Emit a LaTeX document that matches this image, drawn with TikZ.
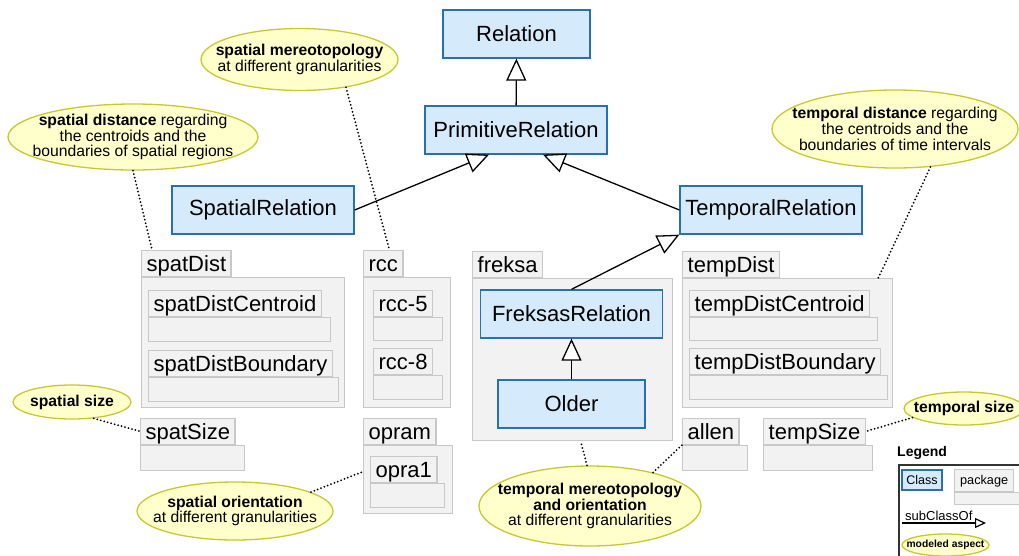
\documentclass[tikz,border=0pt]{standalone}
\usepackage{fontspec}
\setmainfont{Liberation Sans}
\usetikzlibrary{arrows.meta,shapes.geometric}

\definecolor{clsfill}{RGB}{213,235,251}
\definecolor{clsline}{RGB}{40,112,182}
\definecolor{pkgfill}{RGB}{242,242,242}
\definecolor{pkgline}{RGB}{200,200,200}
\definecolor{aspfill}{RGB}{255,255,204}
\definecolor{aspline}{RGB}{200,200,50}

\begin{document}
\begin{tikzpicture}[x=1pt,y=-1pt,
    cls/.style={draw=clsline,fill=clsfill,line width=1.3pt,inner sep=0pt,
      minimum height=48pt,font=\fontsize{22}{24}\selectfont},
    pkg/.style={draw=pkgline,fill=pkgfill,line width=1.3pt,anchor=north west,inner sep=0pt},
    tab/.style={draw=pkgline,fill=pkgfill,line width=1.3pt,anchor=south west,
      inner xsep=5pt,inner ysep=4pt,text height=17pt,text depth=1pt,
      font=\fontsize{22}{24}\selectfont},
    aspect/.style={ellipse,draw=aspline,fill=aspfill,line width=1.3pt,inner sep=0pt},
    asptext/.style={align=center,inner sep=0pt,font=\fontsize{15.7}{15.7}\selectfont},
    gen/.style={-{Triangle[length=22pt,width=20pt,fill=white]},line width=1.3pt},
    note/.style={line width=2pt,line cap=round,dash pattern=on 0pt off 3.6pt}]

      \useasboundingbox (0,0) rectangle (1019,555);

      % packages
      \node[pkg,minimum width=203pt,minimum height=130pt] (spatdist) at (141,277) {};
      \node[tab] (spatdist-tab) at (spatdist.north west) {spatDist};
      \node[pkg,minimum width=182pt,minimum height=24pt] (centroid) at (148,317) {};
      \node[tab] (centroid-tab) at (centroid.north west) {spatDistCentroid};
      \node[pkg,minimum width=190pt,minimum height=24pt] (boundary) at (148,377) {};
      \node[tab] (boundary-tab) at (boundary.north west) {spatDistBoundary};

      \node[pkg,minimum width=87pt,minimum height=130pt] (rcc) at (363,277) {};
      \node[tab] (rcc-tab) at (rcc.north west) {rcc};
      \node[pkg,minimum width=69pt,minimum height=23pt] (rcc5) at (373,317) {};
      \node[tab] (rcc5-tab) at (rcc5.north west) {rcc-5};
      \node[pkg,minimum width=69pt,minimum height=24pt] (rcc8) at (373,375) {};
      \node[tab] (rcc8-tab) at (rcc8.north west) {rcc-8};

      \node[pkg,minimum width=200pt,minimum height=162pt] (freksa) at (472,278) {};
      \node[tab] (freksa-tab) at (freksa.north west) {freksa};

      \node[pkg,minimum width=210pt,minimum height=129pt] (tempdist) at (682,278) {};
      \node[tab] (tempdist-tab) at (tempdist.north west) {tempDist};
      \node[pkg,minimum width=188pt,minimum height=23pt] (tcentroid) at (689,317) {};
      \node[tab] (tcentroid-tab) at (tcentroid.north west) {tempDistCentroid};
      \node[pkg,minimum width=198pt,minimum height=24pt] (tboundary) at (689,375) {};
      \node[tab] (tboundary-tab) at (tboundary.north west) {tempDistBoundary};

      \node[pkg,minimum width=104pt,minimum height=25pt] (spatsize) at (140,445) {};
      \node[tab] (spatsize-tab) at (spatsize.north west) {spatSize};

      \node[pkg,minimum width=89pt,minimum height=68pt] (opram) at (363,445) {};
      \node[tab] (opram-tab) at (opram.north west) {opram};
      \node[pkg,minimum width=74pt,minimum height=24pt] (opra1) at (370,483) {};
      \node[tab] (opra1-tab) at (opra1.north west) {opra1};

      \node[pkg,minimum width=65pt,minimum height=25pt] (allen) at (682,445) {};
      \node[tab] (allen-tab) at (allen.north west) {allen};

      \node[pkg,minimum width=109pt,minimum height=25pt] (tempsize) at (763,445) {};
      \node[tab] (tempsize-tab) at (tempsize.north west) {tempSize};

      % classes
      \begin{scope}[every node/.style={cls}]
        \node[minimum width=147pt] (relation)  at (516.5,34) {Relation};
        \node[minimum width=182pt] (primitive) at (516,130)  {PrimitiveRelation};
        \node[minimum width=182pt] (spatial)   at (263,210)  {SpatialRelation};
        \node[minimum width=182pt] (temporal)  at (771,210)  {TemporalRelation};
        \node[minimum width=182pt] (freksas)   at (571.5,314) {FreksasRelation};
        \node[minimum width=147pt] (older)     at (571.5,404) {Older};
      \end{scope}

      \begin{scope}[every edge/.style={draw,gen}]
        \path (primitive) edge (relation);
        \path (spatial.east) edge ([xshift=-27pt]primitive.south);
        \path (temporal.west) edge ([xshift=27pt]primitive.south);
        \path (freksas.north) edge (temporal.south west);
        \path (older) edge (freksas);
      \end{scope}

      % modeled aspects
      \node[aspect,minimum width=197pt,minimum height=62pt,
        label={[asptext]center:{\textbf{spatial mereotopology}\\at different granularities}}]
        (asp-smer) at (299.5,59.5) {};
      \node[aspect,minimum width=250pt,minimum height=66pt,
        label={[asptext]center:{\textbf{spatial distance} regarding\\the centroids and the\\boundaries of spatial regions}}]
        (asp-sdist) at (133,137) {};
      \node[aspect,minimum width=246pt,minimum height=78pt,
        label={[asptext]center:{\textbf{temporal distance} regarding\\the centroids and the\\boundaries of time intervals}}]
        (asp-tdist) at (895,129) {};
      \node[aspect,minimum width=118pt,minimum height=34pt,
        label={[asptext]center:{\textbf{spatial size}}}]
        (asp-ssize) at (72,402) {};
      \node[aspect,minimum width=120pt,minimum height=33pt,
        label={[asptext]center:{\textbf{temporal size}}}]
        (asp-tsize) at (964,408.5) {};
      \node[aspect,minimum width=196pt,minimum height=58pt,
        label={[asptext]center:{\textbf{spatial orientation}\\at different granularities}}]
        (asp-sori) at (235,511) {};
      \node[aspect,minimum width=222pt,minimum height=80pt,
        label={[asptext]center:{\textbf{temporal mereotopology}\\\textbf{and orientation}\\at different granularities}}]
        (asp-tmer) at (590,506) {};

      \begin{scope}[every edge/.style={draw,note}]
        \path (asp-smer.-31) edge ([xshift=6pt]rcc-tab.north);
        \path (asp-sdist.south) edge ([xshift=11pt]spatdist-tab.north west);
        \path (asp-ssize.-37) edge (spatsize-tab.west);
        \path (asp-tdist.-47) edge ([xshift=-15pt]tempdist.north east);
        \path (asp-tsize.-170) edge (tempsize-tab.east);
        \path (asp-sori.14) edge ([yshift=8pt]opram.west);
        \path ([xshift=-3pt]asp-tmer.north) edge ([xshift=8pt]freksa.south);
        \path (asp-tmer.28) edge (allen.north west);
      \end{scope}

      % legend
      \node[anchor=west,inner sep=0pt,font=\fontsize{14}{16}\selectfont\bfseries] (legend-title)
        at (897,453) {Legend};
      \node[draw=black!80,line width=1.5pt,anchor=north west,minimum width=140pt,
        minimum height=100pt] (legend) at (898,464) {};
      \node[cls,minimum width=40pt,minimum height=20pt,line width=1.2pt,
        font=\fontsize{12.5}{14}\selectfont] (legend-cls) at (922,480) {Class};
      \node[pkg,minimum width=80pt,minimum height=12pt] (legend-pkg) at (954,492) {};
      \node[tab,inner xsep=5.5pt,inner ysep=5pt,text height=10pt,text depth=2pt,
        font=\fontsize{12.7}{14}\selectfont] (legend-pkg-tab) at (legend-pkg.north west) {package};
      \node[anchor=south west,inner sep=0pt,font=\fontsize{13}{15}\selectfont]
        (legend-sub) at (905,521) {subClassOf};
      \coordinate (sub-from) at (902,523);
      \coordinate (sub-to) at (986,523);
      \draw[-{Triangle[length=11pt,width=10pt,fill=white]},line width=1.2pt] (sub-from) -- (sub-to);
      \node[aspect,minimum width=87pt,minimum height=22pt,
        label={[asptext,font=\fontsize{10.3}{12}\selectfont\bfseries]center:modeled aspect}]
        (legend-asp) at (945.5,545) {};

    \end{tikzpicture}
\end{document}
